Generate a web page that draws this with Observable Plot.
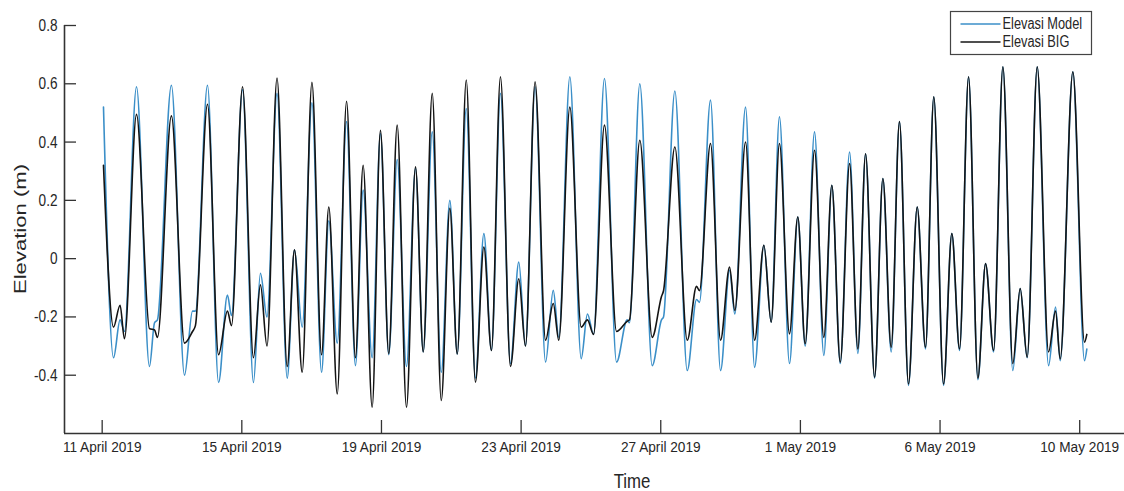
<!DOCTYPE html>
<html>
<head>
<meta charset="utf-8">
<script src="https://cdn.jsdelivr.net/npm/d3@7"></script>
<script src="https://cdn.jsdelivr.net/npm/@observablehq/plot@0.6"></script>
<style>
  html, body { margin: 0; padding: 0; background: #fff; }
  #wrap { position: relative; width: 1124px; height: 491px; overflow: hidden; background: #fff; }
  #wrap svg.plot { position: absolute; left: 0; top: 0; }
  .overlay { position: absolute; left: 0; top: 0; pointer-events: none; }
</style>
</head>
<body>
<div id="wrap"></div>
<script>
// Hours since 11 April 2019 00:00 (turning points)
const hours = [
  0.9, 7.8, 12.3, 15.3, 23.6, 32.5, 36.0, 38.0, 47.6, 56.6, 62.1, 64.1,
  72.4, 80.0, 86.1, 88.9, 96.5, 104.0, 108.8, 113.3, 120.2, 127.2, 132.2, 137.5,
  144.2, 150.8, 155.8, 161.6, 168.0, 174.1, 179.4, 185.6, 191.3, 197.0, 202.8, 209.2,
  215.4, 220.7, 226.9, 233.1, 239.0, 244.1, 250.3, 256.6, 262.4, 267.6, 273.8, 280.7,
  286.4, 291.0, 297.6, 304.8, 310.1, 313.9, 321.5, 329.3, 333.6, 337.8, 345.3, 353.6,
  360.9, 362.5, 369.6, 378.1, 384.5, 385.9, 393.7, 402.2, 408.6, 410.6, 418.2, 425.1,
  431.3, 434.9, 442.3, 448.5, 454.9, 459.9, 465.6, 472.5, 478.2, 483.3, 489.7, 496.1,
  501.6, 507.4, 513.8, 519.5, 524.8, 531.0, 536.7, 542.4, 548.1, 554.3, 560.3, 566.0,
  571.7, 578.4, 584.1, 589.4, 595.6, 602.0, 607.3, 612.8, 619.2, 626.0, 631.1, 635.9,
  642.8, 650.6, 655.4, 658.6, 667.3, 675.3, 676.9
];
const elevasiModel = [
  0.52, -0.34, -0.21, -0.25, 0.59, -0.37, -0.22, -0.21, 0.595, -0.40, -0.18, -0.18,
  0.595, -0.425, -0.125, -0.195, 0.58, -0.425, -0.05, -0.20, 0.567, -0.41, 0.03, -0.235,
  0.535, -0.39, 0.13, -0.29, 0.47, -0.367, 0.235, -0.34, 0.43, -0.33, 0.34, -0.37,
  0.31, -0.32, 0.435, -0.39, 0.20, -0.327, 0.515, -0.41, 0.086, -0.315, 0.567, -0.36,
  -0.012, -0.30, 0.59, -0.355, -0.109, -0.27, 0.624, -0.343, -0.19, -0.26, 0.618, -0.355,
  -0.21, -0.22, 0.60, -0.367, -0.21, -0.20, 0.575, -0.384, -0.14, -0.15, 0.544, -0.384,
  -0.04, -0.19, 0.52, -0.373, 0.046, -0.218, 0.487, -0.36, 0.143, -0.30, 0.435, -0.332,
  0.252, -0.36, 0.366, -0.325, 0.36, -0.41, 0.275, -0.32, 0.47, -0.435, 0.177, -0.31,
  0.555, -0.435, 0.086, -0.315, 0.624, -0.415, -0.017, -0.32, 0.658, -0.384, -0.103, -0.34,
  0.658, -0.367, -0.166, -0.35, 0.641, -0.35, -0.31
];
const elevasiBIG = [
  0.32, -0.235, -0.16, -0.275, 0.495, -0.24, -0.245, -0.27, 0.49, -0.29, -0.25, -0.23,
  0.53, -0.33, -0.18, -0.23, 0.59, -0.34, -0.09, -0.30, 0.62, -0.37, 0.03, -0.39,
  0.605, -0.33, 0.177, -0.464, 0.54, -0.34, 0.32, -0.51, 0.44, -0.326, 0.458, -0.51,
  0.315, -0.32, 0.567, -0.487, 0.173, -0.327, 0.613, -0.424, 0.04, -0.315, 0.624, -0.37,
  -0.069, -0.30, 0.607, -0.28, -0.154, -0.28, 0.52, -0.235, -0.21, -0.26, 0.458, -0.25,
  -0.215, -0.21, 0.406, -0.27, -0.13, -0.11, 0.383, -0.28, -0.095, -0.11, 0.395, -0.28,
  -0.029, -0.178, 0.40, -0.28, 0.046, -0.218, 0.395, -0.258, 0.143, -0.292, 0.372, -0.27,
  0.252, -0.355, 0.326, -0.31, 0.36, -0.407, 0.275, -0.304, 0.47, -0.43, 0.177, -0.304,
  0.555, -0.43, 0.086, -0.31, 0.624, -0.41, -0.017, -0.315, 0.658, -0.36, -0.103, -0.338,
  0.658, -0.32, -0.18, -0.344, 0.641, -0.287, -0.26
];
const seriesNames = ["Elevasi Model", "Elevasi BIG"];
const seriesColors = ["#3b8fc8", "#141414"];
const xTickHours = [0, 96, 192, 288, 384, 480, 576, 672];
const xTickLabels = ["11 April 2019", "15 April 2019", "19 April 2019", "23 April 2019",
                     "27 April 2019", "1 May 2019", "6 May 2019", "10 May 2019"];
const yTicks = [-0.4, -0.2, 0, 0.2, 0.4, 0.6, 0.8];
const xDomain = [-25.9, 702.8];
const yDomain = [-0.6, 0.8];
const xTitle = "Time";
const yTitle = "Elevation (m)";

const table = (vals, name) => hours.map((h, i) => ({hour: h, value: vals[i], series: name}));
const dataModel = table(elevasiModel, seriesNames[0]);
const dataBIG = table(elevasiBIG, seriesNames[1]);

const sans = "'Liberation Sans', Arial, Helvetica, sans-serif";
const axisColor = "#333";

const chart = Plot.plot({
  width: 1124,
  height: 491,
  marginLeft: 64,
  marginRight: 0,
  marginTop: 25,
  marginBottom: 58,
  style: {fontFamily: sans, fontSize: "16px", color: "#262626", background: "white"},
  x: {domain: xDomain},
  y: {domain: yDomain},
  marks: [
    Plot.line(dataModel, {x: "hour", y: "value", stroke: seriesColors[0], strokeWidth: 1.6, curve: "monotone-x"}),
    Plot.line(dataBIG, {x: "hour", y: "value", stroke: seriesColors[1], strokeWidth: 1.6, curve: "monotone-x"}),
    Plot.ruleY([yDomain[0]], {stroke: axisColor, strokeWidth: 1.6}),
    Plot.ruleX([xDomain[0]], {stroke: axisColor, strokeWidth: 1.6}),
    Plot.axisX(xTickHours, {
      tickSize: -13, tickPadding: 20, stroke: axisColor, strokeWidth: 1.3,
      tickFormat: d => xTickLabels[xTickHours.indexOf(d)], label: null, fontSize: 15.5,
      ariaLabel: "x-axis"
    }),
    Plot.axisY(yTicks, {
      tickSize: -12, tickPadding: 19, stroke: axisColor, strokeWidth: 1.3,
      tickFormat: d => d === 0 ? "0" : d.toFixed(1), label: null, fontSize: 17,
      ariaLabel: "y-axis"
    })
  ]
});
chart.classList.add("plot");
const wrap = document.getElementById("wrap");
wrap.appendChild(chart);

// the reference lettering is narrow and tall: compress text horizontally
function squeezeText(sel, k) {
  sel.each(function () {
    const L = this.getComputedTextLength();
    if (L > 0) {
      this.setAttribute("textLength", (L * k).toFixed(2));
      this.setAttribute("lengthAdjust", "spacingAndGlyphs");
    }
  });
}
d3.select(chart).selectAll("text").each(function () {
  const fs = parseFloat(getComputedStyle(this).fontSize);
  squeezeText(d3.select(this), fs < 16.5 ? 0.88 : 0.8);
});

// Overlay: axis titles and legend
const ov = d3.select(wrap).append("svg")
  .attr("class", "overlay")
  .attr("width", 1124).attr("height", 491);

ov.append("text")
  .attr("transform", "translate(26,229) rotate(-90)")
  .attr("text-anchor", "middle")
  .attr("font-family", sans)
  .attr("font-size", 17)
  .attr("fill", "#262626")
  .attr("textLength", 130)
  .attr("lengthAdjust", "spacingAndGlyphs")
  .text(yTitle);

const tt = ov.append("text")
  .attr("x", 632).attr("y", 488)
  .attr("text-anchor", "middle")
  .attr("font-family", sans)
  .attr("font-size", 21)
  .attr("fill", "#262626")
  .text(xTitle);
squeezeText(tt, 0.8);

const lg = ov.append("g").attr("transform", "translate(950.5,11.5)");
lg.append("rect").attr("width", 141).attr("height", 43)
  .attr("fill", "white").attr("stroke", "#444").attr("stroke-width", 1.2);
seriesNames.forEach((name, i) => {
  const yy = 12.5 + i * 18;
  lg.append("line").attr("x1", 10).attr("x2", 50).attr("y1", yy).attr("y2", yy)
    .attr("stroke", seriesColors[i]).attr("stroke-width", 1.6);
  const t = lg.append("text").attr("x", 52).attr("y", yy + 5)
    .attr("font-family", sans).attr("font-size", 16).attr("fill", "#262626")
    .text(name);
  squeezeText(t, 0.8);
});
</script>
</body>
</html>
